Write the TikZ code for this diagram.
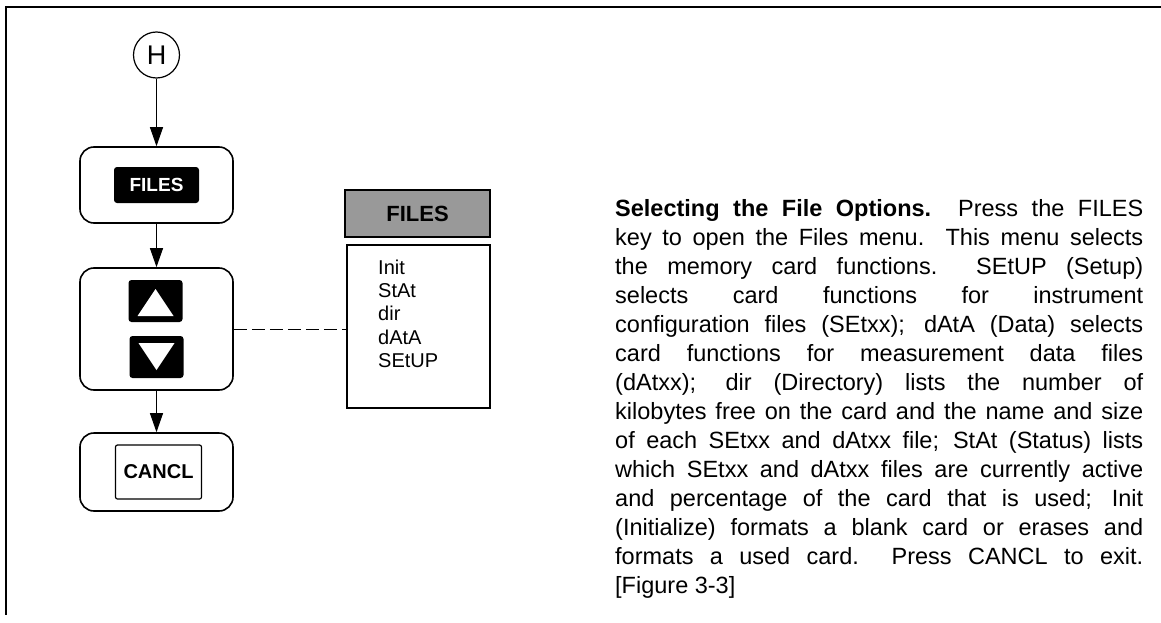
\documentclass[tikz,border=0pt]{standalone}
\usepackage{fontspec}
\setmainfont{Liberation Sans}
\usetikzlibrary{arrows.meta,calc}
\begin{document}
\begin{tikzpicture}[x=1pt,y=-1pt,
  rbox/.style={draw, line width=1.6pt, rounded corners=14pt, minimum width=153pt, inner sep=0pt},
  keyblk/.style={fill=black, rounded corners=3pt, text=white, inner sep=0pt,
                 font=\bfseries\fontsize{19}{19}\selectfont},
  arr/.style={line width=1pt, -{Triangle[length=19pt,width=13pt]}},
  item/.style={anchor=base west, inner sep=0pt, font=\fontsize{20}{20}\selectfont}]
\useasboundingbox (0,0) rectangle (1161,623);
% frame
\draw[line width=1.5pt] (1161,7) -- (6,7) -- (6,615);
% flow chart
\node[draw, circle, line width=1.2pt, minimum size=46pt, inner sep=0pt,
      font=\fontsize{27}{27}\selectfont] (H) at (156.5,55) {H};
\node[rbox, minimum height=76pt] (filesbox) at (156.5,185) {};
\node[keyblk, minimum width=85pt, minimum height=36pt] (fileskey) at (156.5,185) {FILES};
\node[rbox, minimum height=122pt] (navbox) at (156.5,329) {};
\node[keyblk, minimum width=54pt, minimum height=42pt] (upkey) at (155.5,301) {};
\node[keyblk, minimum width=54pt, minimum height=42pt] (downkey) at (156.5,357) {};
\fill[white] ([shift={(-18pt,-15pt)}]upkey.center) -- ([shift={(18pt,-15pt)}]upkey.center)
   -- ([shift={(0pt,12pt)}]upkey.center) -- cycle;
\fill[white] ([shift={(-18pt,14pt)}]downkey.center) -- ([shift={(18pt,14pt)}]downkey.center)
   -- ([shift={(0pt,-13pt)}]downkey.center) -- cycle;
\node[rbox, minimum height=78pt] (cancbox) at (156.5,472) {};
\node[draw, line width=1.2pt, rounded corners=2pt, minimum width=86pt, minimum height=54pt,
      inner sep=0pt, font=\bfseries\fontsize{20}{20}\selectfont] (canckey) at (158.5,472) {CANCL};
\draw[arr] (H) -- (filesbox);
\draw[arr] (filesbox) -- (navbox);
\draw[arr] (navbox) -- (cancbox);
% menu
\node[draw, line width=1.6pt, fill=black!40, minimum width=145pt, minimum height=47pt,
      inner sep=0pt, font=\bfseries\fontsize{22}{22}\selectfont] (menuhead) at (417.5,213.5) {FILES};
\node[draw, line width=1.2pt, minimum width=143pt, minimum height=163pt, inner sep=0pt]
      (menulist) at (418.5,326.5) {};
\node[item] (m1) at (378,274) {Init};
\node[item] (m2) at (378,297) {StAt};
\node[item] (m3) at (378,320) {dir};
\node[item] (m4) at (378,344) {dAtA};
\node[item] (m5) at (378,367) {SEtUP};
\draw[line width=1pt, dash pattern=on 13pt off 5pt] (navbox.east) -- (navbox.east -| menulist.west);
% paragraph
\node[anchor=base west, inner sep=0pt] (para) at (615,216) {\parbox[t]{528pt}{%
\fontsize{23.5}{29}\selectfont
\makebox[\linewidth][s]{\textbf{Selecting the File Options.}\ \ Press the FILES}\\
\makebox[\linewidth][s]{key to open the Files menu.\ \ This menu selects}\\
\makebox[\linewidth][s]{the memory card functions.\ \ SEtUP (Setup)}\\
\makebox[\linewidth][s]{selects card functions for instrument}\\
\makebox[\linewidth][s]{configuration files (SEtxx); dAtA (Data) selects}\\
\makebox[\linewidth][s]{card functions for measurement data files}\\
\makebox[\linewidth][s]{(dAtxx); dir (Directory) lists the number of}\\
\makebox[\linewidth][s]{kilobytes free on the card and the name and size}\\
\makebox[\linewidth][s]{of each SEtxx and dAtxx file; StAt (Status) lists}\\
\makebox[\linewidth][s]{which SEtxx and dAtxx files are currently active}\\
\makebox[\linewidth][s]{and percentage of the card that is used; Init}\\
\makebox[\linewidth][s]{(Initialize) formats a blank card or erases and}\\
\makebox[\linewidth][s]{formats a used card.\ \ Press CANCL to exit.}\\
\relax [Figure 3-3]}};
\end{tikzpicture}
\end{document}
